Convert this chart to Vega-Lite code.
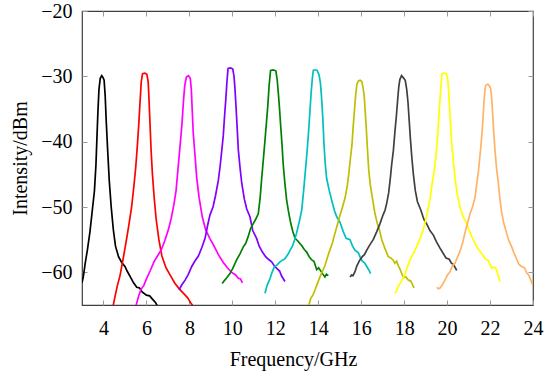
{
  "$schema": "https://vega.github.io/schema/vega-lite/v6.json",
  "width": 451,
  "height": 294,
  "autosize": "none",
  "padding": {"left": 82, "top": 11, "right": 26, "bottom": 68},
  "config": {
    "font": "Liberation Serif",
    "view": {"stroke": "#404040", "strokeWidth": 1.2},
    "axis": {
      "domain": false,
      "grid": false,
      "tickSize": -5,
      "tickColor": "#999999",
      "tickWidth": 1,
      "labelFlush": false,
      "labelOverlap": false,
      "labelFont": "Liberation Serif",
      "labelFontSize": 20,
      "labelColor": "#000000",
      "titleFont": "Liberation Serif",
      "titleFontSize": 20,
      "titleFontWeight": "normal",
      "titleColor": "#000000"
    }
  },
  "data": {"values": [
    {"s":"A","x":3.0,"y":-61.6},{"s":"A","x":3.06,"y":-60.7},{"s":"A","x":3.15,"y":-58.6},{"s":"A","x":3.25,"y":-56.6},{"s":"A","x":3.37,"y":-53.8},{"s":"A","x":3.48,"y":-50.5},{"s":"A","x":3.58,"y":-47.5},{"s":"A","x":3.65,"y":-43.5},{"s":"A","x":3.70,"y":-39.0},{"s":"A","x":3.74,"y":-35.5},{"s":"A","x":3.79,"y":-32.0},{"s":"A","x":3.85,"y":-30.3},{"s":"A","x":3.92,"y":-29.9},{"s":"A","x":3.98,"y":-30.2},{"s":"A","x":4.03,"y":-30.6},{"s":"A","x":4.08,"y":-33.0},{"s":"A","x":4.13,"y":-37.0},{"s":"A","x":4.19,"y":-41.0},{"s":"A","x":4.27,"y":-46.0},{"s":"A","x":4.36,"y":-50.0},{"s":"A","x":4.46,"y":-53.5},{"s":"A","x":4.56,"y":-56.0},{"s":"A","x":4.70,"y":-57.6},{"s":"A","x":4.85,"y":-58.5},{"s":"A","x":5.00,"y":-59.1},{"s":"A","x":5.10,"y":-59.8},{"s":"A","x":5.25,"y":-60.7},{"s":"A","x":5.40,"y":-61.6},{"s":"A","x":5.55,"y":-62.3},{"s":"A","x":5.68,"y":-62.4},{"s":"A","x":5.80,"y":-63.0},{"s":"A","x":6.00,"y":-63.5},{"s":"A","x":6.15,"y":-63.6},{"s":"A","x":6.28,"y":-64.1},{"s":"A","x":6.42,"y":-64.6},{"s":"A","x":6.52,"y":-65.2},
    {"s":"B","x":4.44,"y":-65.3},{"s":"B","x":4.55,"y":-63.5},{"s":"B","x":4.65,"y":-62.0},{"s":"B","x":4.77,"y":-60.5},{"s":"B","x":4.90,"y":-58.2},{"s":"B","x":5.04,"y":-55.6},{"s":"B","x":5.18,"y":-52.8},{"s":"B","x":5.31,"y":-50.0},{"s":"B","x":5.41,"y":-47.0},{"s":"B","x":5.50,"y":-44.0},{"s":"B","x":5.58,"y":-40.5},{"s":"B","x":5.65,"y":-37.0},{"s":"B","x":5.71,"y":-33.5},{"s":"B","x":5.76,"y":-30.8},{"s":"B","x":5.82,"y":-29.6},{"s":"B","x":5.93,"y":-29.5},{"s":"B","x":6.02,"y":-29.7},{"s":"B","x":6.08,"y":-30.8},{"s":"B","x":6.12,"y":-33.5},{"s":"B","x":6.17,"y":-37.5},{"s":"B","x":6.22,"y":-41.5},{"s":"B","x":6.28,"y":-45.0},{"s":"B","x":6.36,"y":-48.5},{"s":"B","x":6.45,"y":-51.8},{"s":"B","x":6.58,"y":-55.0},{"s":"B","x":6.72,"y":-57.5},{"s":"B","x":6.91,"y":-59.3},{"s":"B","x":7.10,"y":-60.4},{"s":"B","x":7.33,"y":-61.7},{"s":"B","x":7.55,"y":-62.6},{"s":"B","x":7.75,"y":-63.3},{"s":"B","x":7.92,"y":-63.9},{"s":"B","x":8.05,"y":-64.6},{"s":"B","x":8.20,"y":-65.3},
    {"s":"C","x":5.50,"y":-65.3},{"s":"C","x":5.62,"y":-63.8},{"s":"C","x":5.75,"y":-62.6},{"s":"C","x":5.88,"y":-62.0},{"s":"C","x":6.00,"y":-61.0},{"s":"C","x":6.17,"y":-59.8},{"s":"C","x":6.35,"y":-58.4},{"s":"C","x":6.55,"y":-57.3},{"s":"C","x":6.70,"y":-56.5},{"s":"C","x":6.85,"y":-55.2},{"s":"C","x":7.02,"y":-53.5},{"s":"C","x":7.15,"y":-51.8},{"s":"C","x":7.28,"y":-49.6},{"s":"C","x":7.38,"y":-47.5},{"s":"C","x":7.48,"y":-43.8},{"s":"C","x":7.57,"y":-40.5},{"s":"C","x":7.65,"y":-37.5},{"s":"C","x":7.72,"y":-34.0},{"s":"C","x":7.78,"y":-31.5},{"s":"C","x":7.86,"y":-30.1},{"s":"C","x":7.96,"y":-29.9},{"s":"C","x":8.04,"y":-30.3},{"s":"C","x":8.09,"y":-32.0},{"s":"C","x":8.13,"y":-35.0},{"s":"C","x":8.18,"y":-38.7},{"s":"C","x":8.26,"y":-42.0},{"s":"C","x":8.34,"y":-45.5},{"s":"C","x":8.45,"y":-48.5},{"s":"C","x":8.60,"y":-51.5},{"s":"C","x":8.76,"y":-53.5},{"s":"C","x":8.95,"y":-54.8},{"s":"C","x":9.15,"y":-56.0},{"s":"C","x":9.35,"y":-57.3},{"s":"C","x":9.58,"y":-58.5},{"s":"C","x":9.77,"y":-59.3},{"s":"C","x":9.97,"y":-60.0},{"s":"C","x":10.15,"y":-60.4},{"s":"C","x":10.28,"y":-60.9},{"s":"C","x":10.38,"y":-61.0},{"s":"C","x":10.47,"y":-61.6},
    {"s":"D","x":7.52,"y":-62.7},{"s":"D","x":7.65,"y":-61.9},{"s":"D","x":7.80,"y":-61.2},{"s":"D","x":7.95,"y":-60.3},{"s":"D","x":8.11,"y":-59.1},{"s":"D","x":8.25,"y":-58.3},{"s":"D","x":8.42,"y":-57.5},{"s":"D","x":8.58,"y":-56.2},{"s":"D","x":8.73,"y":-54.8},{"s":"D","x":8.85,"y":-52.8},{"s":"D","x":8.96,"y":-51.2},{"s":"D","x":9.10,"y":-50.0},{"s":"D","x":9.22,"y":-48.2},{"s":"D","x":9.35,"y":-45.9},{"s":"D","x":9.43,"y":-43.8},{"s":"D","x":9.52,"y":-41.0},{"s":"D","x":9.58,"y":-39.0},{"s":"D","x":9.64,"y":-36.0},{"s":"D","x":9.69,"y":-33.8},{"s":"D","x":9.75,"y":-30.8},{"s":"D","x":9.80,"y":-28.8},{"s":"D","x":9.92,"y":-28.7},{"s":"D","x":10.02,"y":-28.9},{"s":"D","x":10.08,"y":-30.0},{"s":"D","x":10.12,"y":-31.8},{"s":"D","x":10.17,"y":-34.5},{"s":"D","x":10.21,"y":-37.0},{"s":"D","x":10.28,"y":-41.3},{"s":"D","x":10.36,"y":-44.0},{"s":"D","x":10.44,"y":-46.4},{"s":"D","x":10.56,"y":-48.8},{"s":"D","x":10.67,"y":-50.3},{"s":"D","x":10.82,"y":-51.5},{"s":"D","x":10.95,"y":-53.6},{"s":"D","x":11.13,"y":-54.8},{"s":"D","x":11.25,"y":-56.0},{"s":"D","x":11.40,"y":-56.9},{"s":"D","x":11.55,"y":-57.6},{"s":"D","x":11.68,"y":-58.0},{"s":"D","x":11.83,"y":-58.4},{"s":"D","x":11.95,"y":-59.0},{"s":"D","x":12.07,"y":-59.4},{"s":"D","x":12.20,"y":-59.8},{"s":"D","x":12.30,"y":-60.6},{"s":"D","x":12.45,"y":-61.4},
    {"s":"E","x":9.53,"y":-61.7},{"s":"E","x":9.62,"y":-61.3},{"s":"E","x":9.75,"y":-60.8},{"s":"E","x":9.89,"y":-60.2},{"s":"E","x":10.02,"y":-59.4},{"s":"E","x":10.20,"y":-58.1},{"s":"E","x":10.35,"y":-57.2},{"s":"E","x":10.51,"y":-56.1},{"s":"E","x":10.62,"y":-55.6},{"s":"E","x":10.74,"y":-54.5},{"s":"E","x":10.85,"y":-53.3},{"s":"E","x":10.98,"y":-52.5},{"s":"E","x":11.10,"y":-51.8},{"s":"E","x":11.21,"y":-51.0},{"s":"E","x":11.30,"y":-48.4},{"s":"E","x":11.37,"y":-45.5},{"s":"E","x":11.45,"y":-42.5},{"s":"E","x":11.52,"y":-39.8},{"s":"E","x":11.59,"y":-37.0},{"s":"E","x":11.65,"y":-34.6},{"s":"E","x":11.71,"y":-31.5},{"s":"E","x":11.78,"y":-29.1},{"s":"E","x":11.91,"y":-29.0},{"s":"E","x":12.03,"y":-29.2},{"s":"E","x":12.09,"y":-30.6},{"s":"E","x":12.14,"y":-32.5},{"s":"E","x":12.19,"y":-34.6},{"s":"E","x":12.25,"y":-37.5},{"s":"E","x":12.30,"y":-39.8},{"s":"E","x":12.37,"y":-43.5},{"s":"E","x":12.45,"y":-46.5},{"s":"E","x":12.53,"y":-49.0},{"s":"E","x":12.61,"y":-50.6},{"s":"E","x":12.72,"y":-52.5},{"s":"E","x":12.82,"y":-53.8},{"s":"E","x":12.92,"y":-54.8},{"s":"E","x":13.05,"y":-55.2},{"s":"E","x":13.15,"y":-55.6},{"s":"E","x":13.23,"y":-55.9},{"s":"E","x":13.35,"y":-56.5},{"s":"E","x":13.46,"y":-56.9},{"s":"E","x":13.58,"y":-57.6},{"s":"E","x":13.70,"y":-58.1},{"s":"E","x":13.80,"y":-58.3},{"s":"E","x":13.85,"y":-58.8},{"s":"E","x":13.93,"y":-59.6},{"s":"E","x":14.02,"y":-59.3},{"s":"E","x":14.10,"y":-59.7},{"s":"E","x":14.20,"y":-60.2},{"s":"E","x":14.31,"y":-60.7},{"s":"E","x":14.38,"y":-60.3},{"s":"E","x":14.47,"y":-60.5},
    {"s":"F","x":11.52,"y":-63.2},{"s":"F","x":11.62,"y":-62.0},{"s":"F","x":11.75,"y":-61.0},{"s":"F","x":11.85,"y":-60.0},{"s":"F","x":11.95,"y":-59.2},{"s":"F","x":12.07,"y":-58.9},{"s":"F","x":12.22,"y":-58.4},{"s":"F","x":12.35,"y":-58.1},{"s":"F","x":12.45,"y":-57.9},{"s":"F","x":12.60,"y":-57.2},{"s":"F","x":12.69,"y":-56.6},{"s":"F","x":12.80,"y":-56.0},{"s":"F","x":12.90,"y":-55.0},{"s":"F","x":12.99,"y":-54.0},{"s":"F","x":13.10,"y":-52.5},{"s":"F","x":13.23,"y":-50.5},{"s":"F","x":13.32,"y":-47.5},{"s":"F","x":13.40,"y":-44.5},{"s":"F","x":13.48,"y":-41.5},{"s":"F","x":13.55,"y":-38.5},{"s":"F","x":13.62,"y":-35.0},{"s":"F","x":13.67,"y":-32.5},{"s":"F","x":13.72,"y":-30.5},{"s":"F","x":13.77,"y":-29.1},{"s":"F","x":13.85,"y":-29.0},{"s":"F","x":13.95,"y":-29.1},{"s":"F","x":14.04,"y":-29.8},{"s":"F","x":14.10,"y":-31.0},{"s":"F","x":14.15,"y":-33.0},{"s":"F","x":14.21,"y":-36.2},{"s":"F","x":14.27,"y":-40.5},{"s":"F","x":14.33,"y":-43.5},{"s":"F","x":14.39,"y":-45.6},{"s":"F","x":14.50,"y":-47.3},{"s":"F","x":14.63,"y":-49.0},{"s":"F","x":14.75,"y":-50.5},{"s":"F","x":14.86,"y":-51.5},{"s":"F","x":15.01,"y":-52.3},{"s":"F","x":15.17,"y":-53.8},{"s":"F","x":15.30,"y":-54.8},{"s":"F","x":15.48,"y":-55.0},{"s":"F","x":15.60,"y":-56.0},{"s":"F","x":15.71,"y":-56.6},{"s":"F","x":15.87,"y":-57.0},{"s":"F","x":15.94,"y":-57.6},{"s":"F","x":16.05,"y":-58.3},{"s":"F","x":16.15,"y":-58.5},{"s":"F","x":16.26,"y":-59.1},{"s":"F","x":16.35,"y":-59.6},{"s":"F","x":16.44,"y":-60.2},
    {"s":"G","x":13.54,"y":-65.3},{"s":"G","x":13.65,"y":-64.0},{"s":"G","x":13.75,"y":-63.5},{"s":"G","x":13.85,"y":-62.7},{"s":"G","x":13.95,"y":-61.8},{"s":"G","x":14.08,"y":-60.7},{"s":"G","x":14.20,"y":-59.8},{"s":"G","x":14.31,"y":-59.0},{"s":"G","x":14.42,"y":-57.8},{"s":"G","x":14.54,"y":-56.6},{"s":"G","x":14.66,"y":-55.5},{"s":"G","x":14.78,"y":-54.0},{"s":"G","x":14.90,"y":-52.6},{"s":"G","x":15.01,"y":-51.3},{"s":"G","x":15.13,"y":-50.0},{"s":"G","x":15.25,"y":-48.6},{"s":"G","x":15.35,"y":-46.8},{"s":"G","x":15.42,"y":-45.0},{"s":"G","x":15.50,"y":-42.5},{"s":"G","x":15.57,"y":-40.5},{"s":"G","x":15.62,"y":-38.0},{"s":"G","x":15.68,"y":-35.5},{"s":"G","x":15.74,"y":-33.0},{"s":"G","x":15.80,"y":-31.2},{"s":"G","x":15.87,"y":-30.7},{"s":"G","x":15.95,"y":-30.6},{"s":"G","x":16.03,"y":-30.8},{"s":"G","x":16.08,"y":-31.6},{"s":"G","x":16.14,"y":-33.0},{"s":"G","x":16.18,"y":-35.0},{"s":"G","x":16.23,"y":-37.5},{"s":"G","x":16.28,"y":-40.5},{"s":"G","x":16.35,"y":-44.3},{"s":"G","x":16.42,"y":-46.5},{"s":"G","x":16.54,"y":-49.0},{"s":"G","x":16.64,"y":-51.0},{"s":"G","x":16.75,"y":-52.5},{"s":"G","x":16.85,"y":-53.5},{"s":"G","x":16.96,"y":-55.0},{"s":"G","x":17.10,"y":-56.3},{"s":"G","x":17.26,"y":-57.6},{"s":"G","x":17.38,"y":-57.8},{"s":"G","x":17.48,"y":-58.1},{"s":"G","x":17.57,"y":-58.6},{"s":"G","x":17.65,"y":-58.3},{"s":"G","x":17.73,"y":-59.0},{"s":"G","x":17.82,"y":-59.6},{"s":"G","x":17.90,"y":-60.3},{"s":"G","x":17.98,"y":-60.8},{"s":"G","x":18.08,"y":-60.7},{"s":"G","x":18.20,"y":-61.2},{"s":"G","x":18.30,"y":-61.3},{"s":"G","x":18.38,"y":-61.8},{"s":"G","x":18.46,"y":-62.4},
    {"s":"H","x":15.48,"y":-60.7},{"s":"H","x":15.55,"y":-60.4},{"s":"H","x":15.62,"y":-60.5},{"s":"H","x":15.71,"y":-59.9},{"s":"H","x":15.80,"y":-59.0},{"s":"H","x":15.94,"y":-58.1},{"s":"H","x":16.05,"y":-57.6},{"s":"H","x":16.15,"y":-57.3},{"s":"H","x":16.26,"y":-56.6},{"s":"H","x":16.40,"y":-55.8},{"s":"H","x":16.56,"y":-55.0},{"s":"H","x":16.72,"y":-53.8},{"s":"H","x":16.88,"y":-52.5},{"s":"H","x":17.02,"y":-51.2},{"s":"H","x":17.11,"y":-50.5},{"s":"H","x":17.19,"y":-49.4},{"s":"H","x":17.28,"y":-47.8},{"s":"H","x":17.36,"y":-45.5},{"s":"H","x":17.42,"y":-43.5},{"s":"H","x":17.50,"y":-41.3},{"s":"H","x":17.57,"y":-38.5},{"s":"H","x":17.64,"y":-36.0},{"s":"H","x":17.70,"y":-33.5},{"s":"H","x":17.75,"y":-31.6},{"s":"H","x":17.80,"y":-30.5},{"s":"H","x":17.88,"y":-29.9},{"s":"H","x":17.96,"y":-30.2},{"s":"H","x":18.05,"y":-30.6},{"s":"H","x":18.12,"y":-32.0},{"s":"H","x":18.18,"y":-34.0},{"s":"H","x":18.23,"y":-36.5},{"s":"H","x":18.29,"y":-39.5},{"s":"H","x":18.36,"y":-42.5},{"s":"H","x":18.43,"y":-45.0},{"s":"H","x":18.52,"y":-47.5},{"s":"H","x":18.62,"y":-49.2},{"s":"H","x":18.78,"y":-50.5},{"s":"H","x":18.92,"y":-51.9},{"s":"H","x":19.05,"y":-52.6},{"s":"H","x":19.20,"y":-53.6},{"s":"H","x":19.36,"y":-54.3},{"s":"H","x":19.50,"y":-55.3},{"s":"H","x":19.67,"y":-56.3},{"s":"H","x":19.80,"y":-57.0},{"s":"H","x":19.95,"y":-57.8},{"s":"H","x":20.10,"y":-58.0},{"s":"H","x":20.20,"y":-58.6},{"s":"H","x":20.30,"y":-58.8},{"s":"H","x":20.38,"y":-59.3},{"s":"H","x":20.45,"y":-59.7},
    {"s":"I","x":17.57,"y":-63.2},{"s":"I","x":17.65,"y":-62.8},{"s":"I","x":17.72,"y":-62.2},{"s":"I","x":17.81,"y":-61.7},{"s":"I","x":17.90,"y":-61.2},{"s":"I","x":18.04,"y":-60.3},{"s":"I","x":18.15,"y":-59.2},{"s":"I","x":18.27,"y":-58.1},{"s":"I","x":18.40,"y":-57.3},{"s":"I","x":18.58,"y":-56.1},{"s":"I","x":18.74,"y":-54.8},{"s":"I","x":18.89,"y":-53.5},{"s":"I","x":19.00,"y":-52.0},{"s":"I","x":19.12,"y":-50.2},{"s":"I","x":19.22,"y":-48.5},{"s":"I","x":19.30,"y":-46.5},{"s":"I","x":19.40,"y":-44.5},{"s":"I","x":19.48,"y":-42.3},{"s":"I","x":19.55,"y":-39.5},{"s":"I","x":19.60,"y":-37.0},{"s":"I","x":19.66,"y":-34.0},{"s":"I","x":19.71,"y":-31.5},{"s":"I","x":19.77,"y":-29.6},{"s":"I","x":19.86,"y":-29.5},{"s":"I","x":19.96,"y":-29.6},{"s":"I","x":20.02,"y":-30.2},{"s":"I","x":20.07,"y":-32.0},{"s":"I","x":20.12,"y":-35.0},{"s":"I","x":20.17,"y":-38.0},{"s":"I","x":20.22,"y":-40.5},{"s":"I","x":20.28,"y":-42.5},{"s":"I","x":20.37,"y":-45.6},{"s":"I","x":20.47,"y":-48.0},{"s":"I","x":20.60,"y":-50.0},{"s":"I","x":20.75,"y":-51.5},{"s":"I","x":20.91,"y":-52.5},{"s":"I","x":21.05,"y":-53.8},{"s":"I","x":21.22,"y":-55.0},{"s":"I","x":21.40,"y":-56.2},{"s":"I","x":21.61,"y":-57.1},{"s":"I","x":21.77,"y":-57.9},{"s":"I","x":21.92,"y":-58.2},{"s":"I","x":22.00,"y":-58.8},{"s":"I","x":22.08,"y":-59.4},{"s":"I","x":22.18,"y":-59.2},{"s":"I","x":22.28,"y":-59.4},{"s":"I","x":22.36,"y":-60.3},{"s":"I","x":22.46,"y":-61.4},
    {"s":"J","x":19.52,"y":-62.3},{"s":"J","x":19.60,"y":-62.5},{"s":"J","x":19.67,"y":-62.4},{"s":"J","x":19.78,"y":-61.9},{"s":"J","x":19.90,"y":-61.2},{"s":"J","x":20.02,"y":-60.4},{"s":"J","x":20.14,"y":-59.9},{"s":"J","x":20.25,"y":-59.0},{"s":"J","x":20.37,"y":-58.6},{"s":"J","x":20.48,"y":-57.7},{"s":"J","x":20.60,"y":-56.8},{"s":"J","x":20.72,"y":-55.5},{"s":"J","x":20.83,"y":-54.0},{"s":"J","x":20.95,"y":-52.5},{"s":"J","x":21.07,"y":-51.0},{"s":"J","x":21.18,"y":-50.0},{"s":"J","x":21.30,"y":-48.6},{"s":"J","x":21.38,"y":-46.5},{"s":"J","x":21.45,"y":-44.8},{"s":"J","x":21.52,"y":-42.5},{"s":"J","x":21.58,"y":-40.5},{"s":"J","x":21.63,"y":-38.5},{"s":"J","x":21.68,"y":-36.0},{"s":"J","x":21.72,"y":-33.8},{"s":"J","x":21.77,"y":-31.8},{"s":"J","x":21.82,"y":-31.3},{"s":"J","x":21.90,"y":-31.2},{"s":"J","x":21.98,"y":-31.5},{"s":"J","x":22.03,"y":-31.9},{"s":"J","x":22.08,"y":-33.5},{"s":"J","x":22.12,"y":-35.7},{"s":"J","x":22.17,"y":-38.5},{"s":"J","x":22.23,"y":-41.3},{"s":"J","x":22.30,"y":-44.0},{"s":"J","x":22.38,"y":-46.2},{"s":"J","x":22.46,"y":-48.8},{"s":"J","x":22.54,"y":-50.8},{"s":"J","x":22.64,"y":-52.5},{"s":"J","x":22.77,"y":-54.0},{"s":"J","x":22.88,"y":-55.2},{"s":"J","x":23.01,"y":-56.1},{"s":"J","x":23.10,"y":-56.9},{"s":"J","x":23.24,"y":-58.0},{"s":"J","x":23.35,"y":-58.8},{"s":"J","x":23.47,"y":-59.1},{"s":"J","x":23.60,"y":-59.3},{"s":"J","x":23.71,"y":-60.1},{"s":"J","x":23.80,"y":-60.4},{"s":"J","x":23.90,"y":-61.2},{"s":"J","x":24.0,"y":-62.0}
  ]},
  "layer": [
    {
      "mark": {"type": "line", "strokeWidth": 1.7, "clip": true, "interpolate": "linear"},
      "encoding": {
        "x": {"field": "x", "type": "quantitative", "scale": {"domain": [3, 24], "nice": false, "zero": false},
              "axis": {"orient": "bottom", "title": "Frequency/GHz", "titleX": 211, "values": [4,6,8,10,12,14,16,18,20,22,24], "labelPadding": 18, "titlePadding": 11}},
        "y": {"field": "y", "type": "quantitative", "scale": {"domain": [-65, -20], "nice": false, "zero": false},
              "axis": {"orient": "left", "title": "Intensity/dBm", "values": [-60,-50,-40,-30,-20], "labelPadding": 15, "titlePadding": 10}},
        "color": {"field": "s", "type": "nominal", "legend": null,
                  "scale": {"domain": ["A","B","C","D","E","F","G","H","I","J"],
                            "range": ["#000000","#ff0000","#ff00ff","#8000ff","#008000","#00bfbf","#bfbf00","#404040","#ffff00","#ffb366"]}}
      }
    },
    {
      "mark": {"type": "point", "opacity": 0},
      "encoding": {
        "x": {"field": "x", "type": "quantitative", "scale": {"domain": [3, 24], "nice": false, "zero": false},
              "axis": {"orient": "top", "title": null, "labels": false, "values": [4,6,8,10,12,14,16,18,20,22,24]}},
        "y": {"field": "y", "type": "quantitative", "scale": {"domain": [-65, -20], "nice": false, "zero": false},
              "axis": {"orient": "right", "title": null, "labels": false, "values": [-60,-50,-40,-30,-20]}}
      }
    }
  ],
  "resolve": {"axis": {"x": "independent", "y": "independent"}}
}
